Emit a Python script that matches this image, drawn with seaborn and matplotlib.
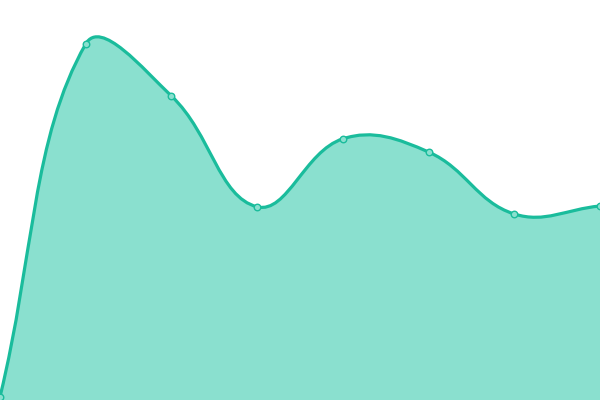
import numpy as np
import pandas as pd
import matplotlib
matplotlib.use("Agg")
import matplotlib.pyplot as plt
from matplotlib.path import Path
from matplotlib.patches import PathPatch
import seaborn as sns

# data
labels = [0, 1, 2, 3, 4, 5, 6, 7]
values = [0.8, 89, 76, 48.3, 65.3, 62, 46.5, 48.5]

line_color = "#1abc9c"
fill_color = "#8ae0cf"
tension = 0.4

sns.set_style("white")
fig = plt.figure(figsize=(6, 4), dpi=100)
ax = fig.add_axes([0, 0, 1, 1])
ax.set_xlim(0, 7)
ax.set_ylim(0, 100)
ax.axis("off")

df = pd.DataFrame({"x": labels, "y": values})

# spline control points, worked out in pixel space like chart.js does
pts = ax.transData.transform(df[["x", "y"]].to_numpy(dtype=float))
n = len(pts)
ctrl_prev = []
ctrl_next = []
for i in range(n):
    p1 = pts[i]
    p0 = pts[i - 1] if i > 0 else p1
    p2 = pts[i + 1] if i < n - 1 else p1
    d01 = np.hypot(*(p1 - p0))
    d12 = np.hypot(*(p2 - p1))
    tot = d01 + d12
    s01 = d01 / tot if tot else 0
    s12 = d12 / tot if tot else 0
    fa = tension * s01
    fb = tension * s12
    ctrl_prev.append(p1 - fa * (p2 - p0))
    ctrl_next.append(p1 + fb * (p2 - p0))

inv = ax.transData.inverted()
verts = [pts[0]]
codes = [Path.MOVETO]
for i in range(n - 1):
    verts += [ctrl_next[i], ctrl_prev[i + 1], pts[i + 1]]
    codes += [Path.CURVE4] * 3
verts = inv.transform(np.array(verts))

line_path = Path(verts, codes)
fill_verts = np.vstack([verts, [[labels[-1], 0], [labels[0], 0], verts[0]]])
fill_codes = codes + [Path.LINETO, Path.LINETO, Path.CLOSEPOLY]
fill_path = Path(fill_verts, fill_codes)

ax.add_patch(PathPatch(fill_path, facecolor=fill_color, edgecolor="none", zorder=1))
ax.add_patch(PathPatch(line_path, facecolor="none", edgecolor=line_color, lw=2.3, zorder=2))

sns.scatterplot(data=df, x="x", y="y", ax=ax, s=22, color=fill_color,
                edgecolor=line_color, linewidth=1, zorder=3)
ax.set_xlim(0, 7)
ax.set_ylim(0, 100)
ax.axis("off")

fig.savefig("out.png", dpi=100)
